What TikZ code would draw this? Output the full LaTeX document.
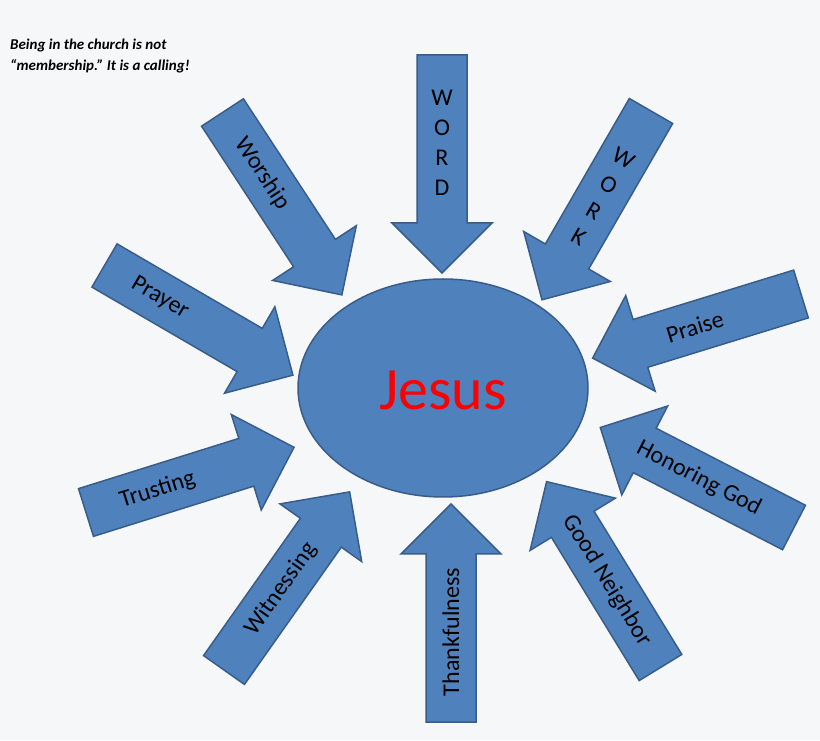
\documentclass[tikz,border=0pt]{standalone}
\usepackage{fontspec}
\setmainfont{Carlito}
\usetikzlibrary{shapes.geometric}
\definecolor{arrowblue}{RGB}{79,129,189}
\definecolor{arrowedge}{RGB}{56,93,138}
\definecolor{paper}{RGB}{246,247,248}
\tikzset{
  blockarrow/.style={fill=arrowblue, draw=arrowedge, line width=1.5pt, line join=miter},
  armlabel/.style={font=\fontsize{24}{29}\selectfont, text=black, align=center, inner sep=0pt},
}
\begin{document}
\begin{tikzpicture}[x=1pt,y=1pt]
\def\arrowpath{(0,-25) -- (168,-25) -- (168,-50) -- (218,0) -- (168,50) -- (168,25) -- (0,25) -- cycle}

% paper
\fill[paper] (0,0) rectangle (820,740);
\useasboundingbox (0,0) rectangle (820,740);

% the ten arrows pointing in
\foreach \tx/\ty/\ang/\pos/\rot/\name/\txt in {
  442/685/-90/88/0/word/{W\\[1pt]O\\[1pt]R\\[1pt]D},
  651/629/-120/100/-30/work/{W\\[1pt]O\\[1pt]R\\[1pt]K},
  222.5/627.5/-56.8/73/-56.8/worship/Worship,
  104.5/474.5/-30.2/64/-30.2/prayer/Prayer,
  801/446/197.1/111/17.1/praise/Praise,
  794/212.5/152.7/107/-27.3/honoring/Honoring God,
  86/227.5/17.4/75/17.4/trusting/Trusting,
  224/70/54.8/99/54.8/witnessing/Witnessing,
  451/18/90/90/90/thankful/Thankfulness,
  660.5/72.5/121.5/102/-58.5/neighbor/Good Neighbor}
{
  \begin{scope}[shift={(\tx,\ty)}, rotate=\ang]
  \draw[blockarrow] \arrowpath;
  \node[armlabel, rotate=\rot] (\name) at (\pos,0) {\txt};
  \end{scope}
}

% centre
\node[draw=arrowedge, fill=arrowblue, line width=1.5pt, ellipse, minimum width=290, minimum height=218, inner sep=0pt] (jesus) at (443,352) {};
\node[text=red, font=\fontsize{60}{72}\selectfont] (jesustext) at (443,350) {Jesus};

\node[anchor=north west, align=left, inner sep=0pt, font=\fontsize{15}{21}\selectfont\bfseries\itshape] (motto) at (10,701) {Being in the church is not\\``membership.''\ It is a calling!};

\end{tikzpicture}
\end{document}
